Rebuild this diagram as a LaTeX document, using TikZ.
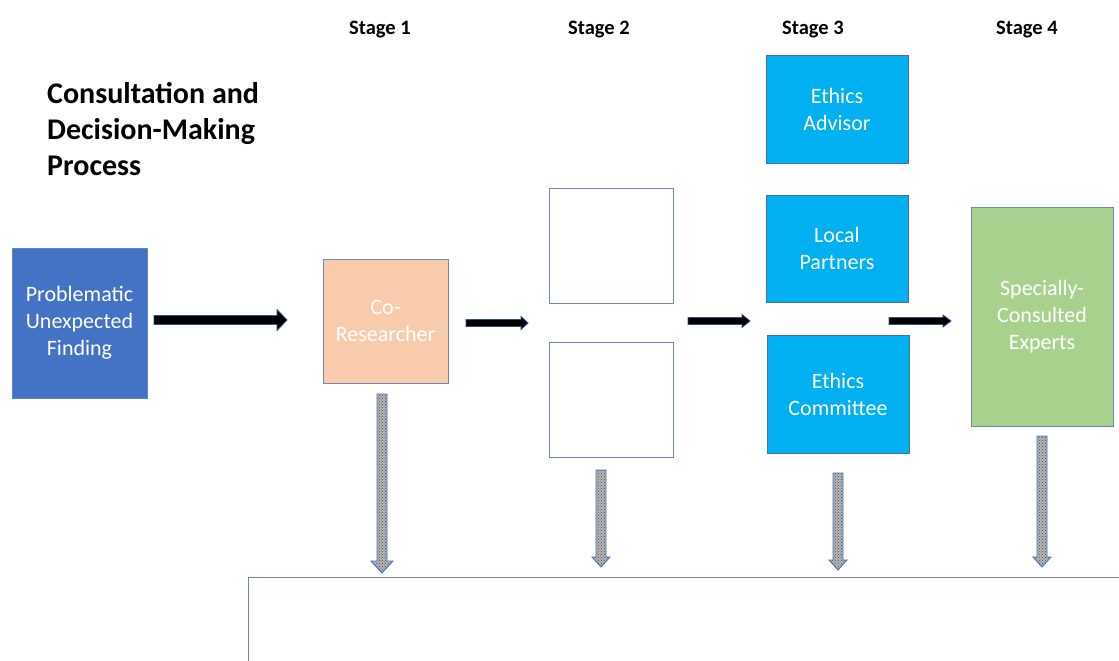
\documentclass[tikz,border=0pt]{standalone}
\usepackage{fontspec}
\setmainfont{Carlito}
\usetikzlibrary{calc,patterns}
\definecolor{probblue}{HTML}{4472C4}
\definecolor{probedge}{HTML}{5A86D0}
\definecolor{peach}{HTML}{F8CBAD}
\definecolor{cyanbox}{HTML}{00B0F0}
\definecolor{greenbox}{HTML}{A9D18E}
\definecolor{edgeblue}{HTML}{4A6DAE}
\definecolor{softedge}{HTML}{6F88B8}
\definecolor{arrowedge}{HTML}{2F4F8F}
\newcommand\blkR[6]{\draw[#1] let \p1=(#2), \p2=(#3) in
  (\x1,\y1+#4) -- (\x2-#6,\y1+#4) -- (\x2-#6,\y1+#5) -- (\x2,\y1) -- (\x2-#6,\y1-#5) -- (\x2-#6,\y1-#4) -- (\x1,\y1-#4) -- cycle;}
\newcommand\blkD[6]{\draw[#1] let \p1=(#2), \p2=(#3) in
  (\x1-#4,\y1) -- (\x1-#4,\y2+#6) -- (\x1-#5,\y2+#6) -- (\x1,\y2) -- (\x1+#5,\y2+#6) -- (\x1+#4,\y2+#6) -- (\x1+#4,\y1) -- cycle;}
\tikzset{
  box/.style={rectangle, inner sep=0pt, line width=1pt, align=center, text=white,
     font=\fontsize{22}{27}\selectfont},
  emptybox/.style={rectangle, inner sep=0pt, line width=1pt, draw=softedge, fill=white},
  stagelabel/.style={font=\bfseries\fontsize{20.5}{24}\selectfont, inner sep=0pt},
  rarrowstyle/.style={fill=black, draw=arrowedge, line width=0.8pt, line join=miter},
  darrowstyle/.style={preaction={fill=gray!58}, pattern=crosshatch dots, pattern color=black!70,
     draw=probblue, line width=0.9pt, line join=miter},
}
\begin{document}
\begin{tikzpicture}[x=1pt,y=-1pt]
\useasboundingbox (0,0) rectangle (1119,661);
\clip (0,0) rectangle (1119,661);

% title
\node[anchor=north west, align=left, inner sep=0pt,
      font=\bfseries\fontsize{30}{36}\selectfont] (title) at (47,82)
  {Consultation and\\Decision-Making\\Process};

% stage labels
\node[stagelabel] (st1) at (380,29.5) {Stage 1};
\node[stagelabel] (st2) at (599,29.5) {Stage 2};
\node[stagelabel] (st3) at (813,29.5) {Stage 3};
\node[stagelabel] (st4) at (1027,29.5) {Stage 4};

% boxes
\node[box, fill=probblue, draw=probedge, minimum width=135pt, minimum height=150pt]
  (prob) at (79.5,323) {Problematic\\Unexpected\\Finding};
\node[box, fill=peach, draw=softedge, minimum width=125pt, minimum height=124pt]
  (cores) at (385.5,321) {Co-\\Researcher};
\node[emptybox, minimum width=124pt, minimum height=115pt] (s2a) at (611,245.5) {};
\node[emptybox, minimum width=124pt, minimum height=115pt] (s2b) at (611,399.5) {};
\node[box, fill=cyanbox, draw=edgeblue, minimum width=142pt, minimum height=107pt]
  (adv) at (837,109.5) {Ethics\\Advisor};
\node[box, fill=cyanbox, draw=edgeblue, minimum width=142pt, minimum height=107pt]
  (loc) at (837,248.5) {Local\\Partners};
\node[box, fill=cyanbox, draw=edgeblue, minimum width=142pt, minimum height=118pt]
  (com) at (838,394) {Ethics\\Committee};
\node[box, fill=greenbox, draw=softedge, minimum width=142pt, minimum height=219pt]
  (exp) at (1042,316.5) {Specially-\\Consulted\\Experts};

% summary box (extends beyond the page)
\node[rectangle, draw=softedge, line width=1pt, fill=white, inner sep=0pt,
      minimum width=900pt, minimum height=150pt, anchor=north west] (sum) at (248,577) {};

% arrow end points
\coordinate (a1s) at (154,320); \coordinate (a1e) at (287,320);
\coordinate (a2s) at (466,323); \coordinate (a2e) at (528,323);
\coordinate (a3s) at (688,321); \coordinate (a3e) at (750,321);
\coordinate (a4s) at (889,321); \coordinate (a4e) at (951,321);
\coordinate (d1s) at (382,394); \coordinate (d1e) at (382,573);
\coordinate (d2s) at (601,470); \coordinate (d2e) at (601,567);
\coordinate (d3s) at (838,473); \coordinate (d3e) at (838,570);
\coordinate (d4s) at (1042,436); \coordinate (d4e) at (1042,567);

% horizontal block arrows
\blkR{rarrowstyle}{a1s}{a1e}{4.5pt}{10.5pt}{10pt}
\blkR{rarrowstyle}{a2s}{a2e}{3.5pt}{6.5pt}{7pt}
\blkR{rarrowstyle}{a3s}{a3e}{3.5pt}{6.5pt}{8pt}
\blkR{rarrowstyle}{a4s}{a4e}{3.5pt}{6pt}{8pt}

% downward block arrows
\blkD{darrowstyle}{d1s}{d1e}{5pt}{11pt}{12pt}
\blkD{darrowstyle}{d2s}{d2e}{5pt}{9pt}{10pt}
\blkD{darrowstyle}{d3s}{d3e}{5pt}{9pt}{10pt}
\blkD{darrowstyle}{d4s}{d4e}{5pt}{9pt}{10pt}
\end{tikzpicture}
\end{document}
